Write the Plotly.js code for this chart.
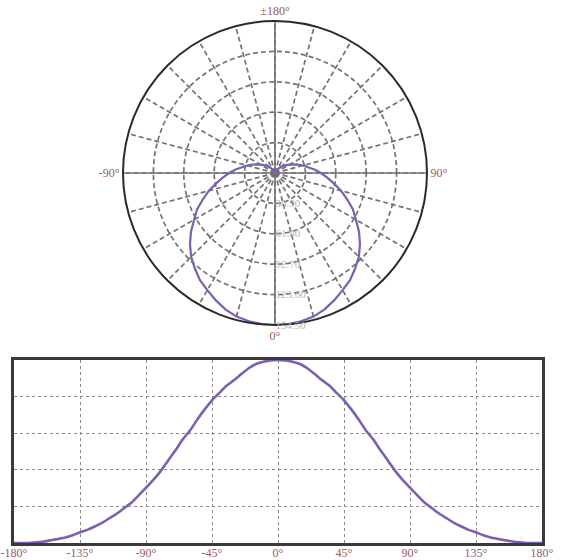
<!DOCTYPE html>
<html>
<head>
<meta charset="utf-8">
<script src="https://cdn.plot.ly/plotly-3.0.1.min.js"></script>
<style>
  html, body { margin: 0; padding: 0; background: #ffffff; }
  #chart { width: 573px; height: 560px; }
</style>
</head>
<body>
<div id="chart"></div>
<script>
// Angles (degrees) and relative luminous intensity
const angles = [-180,-175,-170,-165,-160,-155,-150,-145,-140,-135,-130,-125,-120,-115,-110,-105,-100,-95,-90,-85,-80,-75,-70,-65,-60,-55,-50,-45,-40,-35,-30,-25,-20,-15,-10,-5,
                0,5,10,15,20,25,30,35,40,45,50,55,60,65,70,75,80,85,90,95,100,105,110,115,120,125,130,135,140,145,150,155,160,165,170,175,180];
const intensity = [0,0,0,0.5,1.2,2.3,3.4,4.6,6.5,9.0,11.1,13.9,17.0,20.9,24.7,29.4,34.0,40.2,46.7,53.3,60.7,69.5,78.0,87.3,95.0,104.3,112.8,120.5,126.7,132.9,137.5,142.6,147.5,151.1,153.0,154.2,
                   154.5,154.2,153.0,151.1,147.5,142.6,137.5,132.9,126.7,120.5,112.8,104.3,95.0,87.3,78.0,69.5,60.7,53.3,46.7,40.2,34.0,29.4,24.7,20.9,17.0,13.9,11.1,9.0,6.5,4.6,3.4,2.3,1.2,0.5,0,0,0];

// Radial ticks
const radialTicks = [30.9, 61.8, 92.7, 123.6, 154.5];
const radialTickText = ['30.90', '61.80', '92.70', '123.60', '154.50'];
const radialMax = 154.5;

// Angular ticks (every 15°), labelled only at the four main directions
const angTickVals = [0,15,30,45,60,75,90,105,120,135,150,165,180,195,210,225,240,255,270,285,300,315,330,345];
const angLabels = {0: '0°', 90: '90°', 180: '±180°', 270: '-90°'};

// Rectangular chart ticks
const xTickVals = [-180,-135,-90,-45,0,45,90,135,180];
const xTickText = ['-180°','-135°','-90°','-45°','0°','45°','90°','135°','180°'];

const curveColor = '#7d5fb0';
const labelColor = '#9a5a5e';
const gridColor = '#737373';

const angTickText = angTickVals.map(v => angLabels[v] || '');

const traces = [
  // solid main cross lines of polar grid
  {type: 'scatterpolar', mode: 'lines', r: [radialMax, 0, radialMax], theta: [0, 0, 180],
   line: {color: '#747474', width: 1.6}, hoverinfo: 'skip', showlegend: false},
  {type: 'scatterpolar', mode: 'lines', r: [radialMax, 0, radialMax], theta: [90, 90, 270],
   line: {color: '#747474', width: 1.6}, hoverinfo: 'skip', showlegend: false},
  {type: 'scatterpolar', mode: 'lines', r: intensity, theta: angles,
   line: {color: curveColor, width: 2.2}, showlegend: false},
  {type: 'scatter', mode: 'lines', x: angles, y: intensity, xaxis: 'x', yaxis: 'y',
   line: {color: curveColor, width: 2.6, shape: 'spline', smoothing: 0.6}, showlegend: false, cliponaxis: false}
];

const layout = {
  width: 573, height: 560,
  margin: {l: 0, r: 0, t: 0, b: 0},
  paper_bgcolor: '#ffffff',
  plot_bgcolor: '#ffffff',
  showlegend: false,
  font: {family: 'Liberation Serif, Times New Roman, serif', size: 11, color: labelColor},
  polar: {
    domain: {x: [123/573, 427/573], y: [1 - 325/560, 1 - 21/560]},
    bgcolor: '#ffffff',
    sector: [0, 360],
    radialaxis: {
      range: [0, radialMax],
      tickmode: 'array', tickvals: radialTicks, ticktext: radialTickText,
      angle: -90, side: 'counterclockwise', tickangle: -90,
      showline: false, ticks: '',
      gridcolor: gridColor, gridwidth: 1.7, griddash: '5px,3px',
      tickfont: {family: 'Liberation Serif, serif', size: 11, color: '#b5b5b5'}
    },
    angularaxis: {
      rotation: -90, direction: 'counterclockwise', thetaunit: 'degrees',
      tickmode: 'array', tickvals: angTickVals, ticktext: angTickText,
      ticks: '', showline: true, linecolor: '#2b2b2b', linewidth: 2,
      gridcolor: gridColor, gridwidth: 1.7, griddash: '5px,3px',
      tickfont: {family: 'Liberation Serif, serif', size: 12, color: labelColor}
    }
  },
  xaxis: {
    domain: [14/573, 542/573], anchor: 'y',
    range: [-180, 180],
    tickmode: 'array', tickvals: xTickVals, ticktext: xTickText,
    ticks: '', showline: true, mirror: true, linecolor: '#3a3a3a', linewidth: 3,
    showgrid: true, gridcolor: '#8a8a8a', gridwidth: 1, griddash: 'dot',
    zeroline: false, ticklabelstandoff: -3,
    tickfont: {family: 'Liberation Serif, serif', size: 12, color: labelColor}
  },
  yaxis: {
    domain: [1 - 543/560, 1 - 360/560], anchor: 'x',
    range: [0, radialMax],
    tickmode: 'array', tickvals: radialTicks,
    showticklabels: false, ticks: '',
    showline: true, mirror: true, linecolor: '#3a3a3a', linewidth: 3,
    showgrid: true, gridcolor: '#8a8a8a', gridwidth: 1, griddash: 'dot',
    zeroline: false
  }
};

Plotly.newPlot('chart', traces, layout, {displayModeBar: false, staticPlot: true});
</script>
</body>
</html>
